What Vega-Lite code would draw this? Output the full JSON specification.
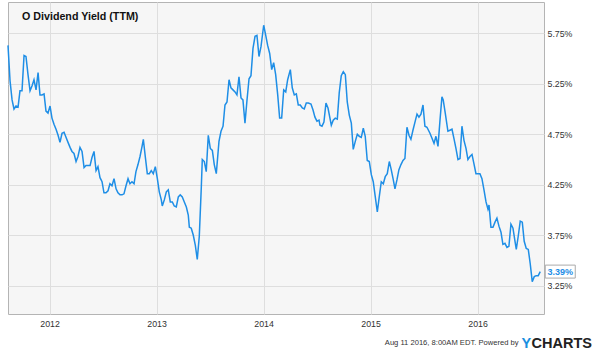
{
  "$schema": "https://vega.github.io/schema/vega-lite/v6.json",
  "width": 536,
  "height": 312,
  "autosize": "none",
  "padding": {"left": 8, "top": 2, "right": 56, "bottom": 40},
  "background": "white",
  "config": {
    "font": "Liberation Sans",
    "view": {"fill": "#f6f6f6", "stroke": "#b4b4b4", "strokeWidth": 1}
  },
  "title": {
    "text": "O Dividend Yield (TTM)",
    "anchor": "start",
    "frame": "group",
    "orient": "top",
    "offset": 0,
    "baseline": "alphabetic",
    "dx": 14,
    "dy": 29,
    "fontSize": 10.7,
    "fontWeight": "bold",
    "color": "#111111",
    "font": "Liberation Sans"
  },
  "datasets": {
    "yield": [
      {"t": 2011.611, "v": 5.63}, {"t": 2011.630, "v": 5.28}, {"t": 2011.649, "v": 5.09}, {"t": 2011.667, "v": 5.00},
      {"t": 2011.686, "v": 5.03}, {"t": 2011.705, "v": 5.02}, {"t": 2011.723, "v": 5.18}, {"t": 2011.742, "v": 5.18},
      {"t": 2011.761, "v": 5.53}, {"t": 2011.779, "v": 5.52}, {"t": 2011.798, "v": 5.34}, {"t": 2011.817, "v": 5.18},
      {"t": 2011.836, "v": 5.23}, {"t": 2011.854, "v": 5.29}, {"t": 2011.873, "v": 5.19}, {"t": 2011.892, "v": 5.36},
      {"t": 2011.910, "v": 5.14}, {"t": 2011.929, "v": 5.14}, {"t": 2011.948, "v": 5.15}, {"t": 2011.966, "v": 4.98},
      {"t": 2011.985, "v": 4.96}, {"t": 2012.004, "v": 5.03}, {"t": 2012.022, "v": 4.91}, {"t": 2012.041, "v": 4.85},
      {"t": 2012.060, "v": 4.80}, {"t": 2012.079, "v": 4.74}, {"t": 2012.097, "v": 4.67}, {"t": 2012.116, "v": 4.76},
      {"t": 2012.135, "v": 4.77}, {"t": 2012.153, "v": 4.72}, {"t": 2012.172, "v": 4.67}, {"t": 2012.191, "v": 4.62},
      {"t": 2012.209, "v": 4.58}, {"t": 2012.228, "v": 4.56}, {"t": 2012.247, "v": 4.48}, {"t": 2012.265, "v": 4.53},
      {"t": 2012.284, "v": 4.62}, {"t": 2012.303, "v": 4.58}, {"t": 2012.322, "v": 4.42}, {"t": 2012.340, "v": 4.44},
      {"t": 2012.359, "v": 4.44}, {"t": 2012.378, "v": 4.44}, {"t": 2012.396, "v": 4.52}, {"t": 2012.415, "v": 4.58},
      {"t": 2012.434, "v": 4.39}, {"t": 2012.452, "v": 4.43}, {"t": 2012.471, "v": 4.32}, {"t": 2012.490, "v": 4.28},
      {"t": 2012.508, "v": 4.17}, {"t": 2012.527, "v": 4.17}, {"t": 2012.546, "v": 4.19}, {"t": 2012.564, "v": 4.26},
      {"t": 2012.583, "v": 4.24}, {"t": 2012.602, "v": 4.31}, {"t": 2012.621, "v": 4.21}, {"t": 2012.639, "v": 4.17},
      {"t": 2012.658, "v": 4.15}, {"t": 2012.677, "v": 4.15}, {"t": 2012.695, "v": 4.16}, {"t": 2012.714, "v": 4.24},
      {"t": 2012.733, "v": 4.31}, {"t": 2012.751, "v": 4.26}, {"t": 2012.770, "v": 4.28}, {"t": 2012.789, "v": 4.26},
      {"t": 2012.807, "v": 4.38}, {"t": 2012.826, "v": 4.45}, {"t": 2012.845, "v": 4.53}, {"t": 2012.864, "v": 4.63},
      {"t": 2012.876, "v": 4.70}, {"t": 2012.894, "v": 4.53}, {"t": 2012.913, "v": 4.36}, {"t": 2012.932, "v": 4.36},
      {"t": 2012.950, "v": 4.39}, {"t": 2012.969, "v": 4.36}, {"t": 2012.988, "v": 4.43}, {"t": 2013.007, "v": 4.31},
      {"t": 2013.025, "v": 4.18}, {"t": 2013.044, "v": 4.10}, {"t": 2013.053, "v": 4.04}, {"t": 2013.072, "v": 4.10},
      {"t": 2013.091, "v": 4.18}, {"t": 2013.109, "v": 4.20}, {"t": 2013.128, "v": 4.08}, {"t": 2013.147, "v": 4.08},
      {"t": 2013.165, "v": 4.04}, {"t": 2013.184, "v": 4.03}, {"t": 2013.203, "v": 4.13}, {"t": 2013.221, "v": 4.15},
      {"t": 2013.240, "v": 4.13}, {"t": 2013.259, "v": 4.08}, {"t": 2013.278, "v": 4.03}, {"t": 2013.296, "v": 3.95},
      {"t": 2013.306, "v": 3.83}, {"t": 2013.324, "v": 3.82}, {"t": 2013.343, "v": 3.75}, {"t": 2013.362, "v": 3.65},
      {"t": 2013.380, "v": 3.51}, {"t": 2013.399, "v": 3.74}, {"t": 2013.418, "v": 4.23}, {"t": 2013.427, "v": 4.50},
      {"t": 2013.446, "v": 4.48}, {"t": 2013.464, "v": 4.38}, {"t": 2013.483, "v": 4.74}, {"t": 2013.502, "v": 4.61},
      {"t": 2013.521, "v": 4.59}, {"t": 2013.539, "v": 4.45}, {"t": 2013.558, "v": 4.36}, {"t": 2013.583, "v": 4.68},
      {"t": 2013.602, "v": 4.78}, {"t": 2013.621, "v": 4.83}, {"t": 2013.639, "v": 5.04}, {"t": 2013.658, "v": 5.07},
      {"t": 2013.677, "v": 5.29}, {"t": 2013.695, "v": 5.21}, {"t": 2013.714, "v": 5.19}, {"t": 2013.733, "v": 5.17},
      {"t": 2013.751, "v": 5.14}, {"t": 2013.770, "v": 5.32}, {"t": 2013.789, "v": 5.11}, {"t": 2013.807, "v": 5.09},
      {"t": 2013.826, "v": 4.86}, {"t": 2013.845, "v": 5.09}, {"t": 2013.864, "v": 5.30}, {"t": 2013.882, "v": 5.33},
      {"t": 2013.901, "v": 5.60}, {"t": 2013.920, "v": 5.72}, {"t": 2013.938, "v": 5.73}, {"t": 2013.957, "v": 5.52},
      {"t": 2013.976, "v": 5.62}, {"t": 2014.001, "v": 5.83}, {"t": 2014.020, "v": 5.73}, {"t": 2014.038, "v": 5.63},
      {"t": 2014.057, "v": 5.55}, {"t": 2014.076, "v": 5.39}, {"t": 2014.094, "v": 5.46}, {"t": 2014.113, "v": 5.34},
      {"t": 2014.132, "v": 5.14}, {"t": 2014.150, "v": 4.91}, {"t": 2014.169, "v": 4.91}, {"t": 2014.188, "v": 5.19},
      {"t": 2014.207, "v": 5.17}, {"t": 2014.225, "v": 5.29}, {"t": 2014.250, "v": 5.39}, {"t": 2014.268, "v": 5.21},
      {"t": 2014.287, "v": 5.14}, {"t": 2014.306, "v": 5.15}, {"t": 2014.324, "v": 5.04}, {"t": 2014.343, "v": 5.04},
      {"t": 2014.362, "v": 5.01}, {"t": 2014.380, "v": 5.00}, {"t": 2014.399, "v": 5.06}, {"t": 2014.418, "v": 5.06},
      {"t": 2014.443, "v": 5.05}, {"t": 2014.462, "v": 4.99}, {"t": 2014.480, "v": 4.92}, {"t": 2014.499, "v": 4.88},
      {"t": 2014.518, "v": 4.89}, {"t": 2014.527, "v": 4.84}, {"t": 2014.546, "v": 4.83}, {"t": 2014.564, "v": 4.87},
      {"t": 2014.583, "v": 5.06}, {"t": 2014.602, "v": 5.01}, {"t": 2014.633, "v": 4.84}, {"t": 2014.651, "v": 4.89},
      {"t": 2014.670, "v": 4.91}, {"t": 2014.689, "v": 4.90}, {"t": 2014.707, "v": 5.16}, {"t": 2014.726, "v": 5.33},
      {"t": 2014.745, "v": 5.37}, {"t": 2014.764, "v": 5.34}, {"t": 2014.782, "v": 5.07}, {"t": 2014.801, "v": 4.94},
      {"t": 2014.820, "v": 4.86}, {"t": 2014.838, "v": 4.60}, {"t": 2014.857, "v": 4.68}, {"t": 2014.876, "v": 4.75},
      {"t": 2014.894, "v": 4.73}, {"t": 2014.913, "v": 4.72}, {"t": 2014.932, "v": 4.81}, {"t": 2014.950, "v": 4.73},
      {"t": 2014.969, "v": 4.49}, {"t": 2014.988, "v": 4.48}, {"t": 2015.007, "v": 4.35}, {"t": 2015.025, "v": 4.28},
      {"t": 2015.044, "v": 4.13}, {"t": 2015.063, "v": 3.98}, {"t": 2015.081, "v": 4.13}, {"t": 2015.100, "v": 4.28},
      {"t": 2015.119, "v": 4.26}, {"t": 2015.137, "v": 4.33}, {"t": 2015.156, "v": 4.36}, {"t": 2015.175, "v": 4.48},
      {"t": 2015.193, "v": 4.40}, {"t": 2015.212, "v": 4.30}, {"t": 2015.228, "v": 4.21}, {"t": 2015.247, "v": 4.30},
      {"t": 2015.265, "v": 4.40}, {"t": 2015.284, "v": 4.45}, {"t": 2015.303, "v": 4.49}, {"t": 2015.321, "v": 4.51},
      {"t": 2015.340, "v": 4.82}, {"t": 2015.359, "v": 4.74}, {"t": 2015.377, "v": 4.70}, {"t": 2015.396, "v": 4.79},
      {"t": 2015.415, "v": 4.87}, {"t": 2015.434, "v": 4.95}, {"t": 2015.452, "v": 4.92}, {"t": 2015.471, "v": 4.95},
      {"t": 2015.490, "v": 5.04}, {"t": 2015.508, "v": 4.83}, {"t": 2015.527, "v": 4.82}, {"t": 2015.555, "v": 4.76},
      {"t": 2015.574, "v": 4.71}, {"t": 2015.593, "v": 4.66}, {"t": 2015.611, "v": 4.73}, {"t": 2015.630, "v": 4.63},
      {"t": 2015.649, "v": 4.89}, {"t": 2015.667, "v": 5.12}, {"t": 2015.679, "v": 5.09}, {"t": 2015.698, "v": 4.96},
      {"t": 2015.723, "v": 4.78}, {"t": 2015.742, "v": 4.79}, {"t": 2015.761, "v": 4.80}, {"t": 2015.779, "v": 4.71},
      {"t": 2015.798, "v": 4.61}, {"t": 2015.817, "v": 4.50}, {"t": 2015.836, "v": 4.51}, {"t": 2015.854, "v": 4.83},
      {"t": 2015.873, "v": 4.69}, {"t": 2015.892, "v": 4.61}, {"t": 2015.910, "v": 4.50}, {"t": 2015.929, "v": 4.53},
      {"t": 2015.948, "v": 4.55}, {"t": 2015.966, "v": 4.46}, {"t": 2015.985, "v": 4.36}, {"t": 2016.004, "v": 4.36},
      {"t": 2016.022, "v": 4.36}, {"t": 2016.041, "v": 4.31}, {"t": 2016.060, "v": 4.20}, {"t": 2016.079, "v": 4.08},
      {"t": 2016.097, "v": 4.01}, {"t": 2016.107, "v": 4.05}, {"t": 2016.125, "v": 3.83}, {"t": 2016.144, "v": 3.83},
      {"t": 2016.163, "v": 3.88}, {"t": 2016.181, "v": 3.92}, {"t": 2016.200, "v": 3.84}, {"t": 2016.219, "v": 3.78},
      {"t": 2016.237, "v": 3.66}, {"t": 2016.256, "v": 3.67}, {"t": 2016.275, "v": 3.63}, {"t": 2016.293, "v": 3.64},
      {"t": 2016.312, "v": 3.86}, {"t": 2016.331, "v": 3.82}, {"t": 2016.350, "v": 3.69}, {"t": 2016.362, "v": 3.61},
      {"t": 2016.380, "v": 3.74}, {"t": 2016.399, "v": 3.89}, {"t": 2016.418, "v": 3.88}, {"t": 2016.436, "v": 3.69},
      {"t": 2016.455, "v": 3.62}, {"t": 2016.474, "v": 3.61}, {"t": 2016.492, "v": 3.47}, {"t": 2016.511, "v": 3.29},
      {"t": 2016.530, "v": 3.34}, {"t": 2016.548, "v": 3.35}, {"t": 2016.567, "v": 3.35}, {"t": 2016.586, "v": 3.39}
    ],
    "last": [
      {"t": 2016.586, "v": 3.39, "label": "3.39%"}
    ]
  },
  "encoding": {
    "x": {
      "field": "t",
      "type": "quantitative",
      "scale": {"domain": [2011.611, 2016.621], "nice": false, "zero": false},
      "axis": {
        "values": [2012, 2013, 2014, 2015, 2016],
        "format": "d",
        "grid": true,
        "gridColor": "#dedede",
        "gridWidth": 1,
        "ticks": false,
        "domain": false,
        "labelFont": "Liberation Sans",
        "labelFontSize": 8.8,
        "labelColor": "#333333",
        "labelPadding": 5,
        "labelFlush": false,
        "title": "Aug 11 2016, 8:00AM EDT.  Powered by",
        "titleFont": "Liberation Sans",
        "titleFontSize": 7.6,
        "titleFontWeight": "normal",
        "titleColor": "#333333",
        "titleAnchor": null,
        "titleAlign": "right",
        "titleBaseline": "alphabetic",
        "titleX": 510,
        "titleY": 30
      }
    }
  },
  "layer": [
    {
      "data": {"name": "yield"},
      "mark": {"type": "line", "color": "#1e8ee6", "strokeWidth": 1.5, "interpolate": "linear"},
      "encoding": {
        "y": {
          "field": "v",
          "type": "quantitative",
          "scale": {"domain": [2.97, 6.06], "nice": false, "zero": false},
          "axis": {
            "orient": "right",
            "values": [3.25, 3.75, 4.25, 4.75, 5.25, 5.75],
            "labelExpr": "format(datum.value, '.2f') + '%'",
            "grid": true,
            "gridColor": "#dedede",
            "gridWidth": 1,
            "ticks": false,
            "domain": false,
            "labelFont": "Liberation Sans",
            "labelFontSize": 8.8,
            "labelColor": "#333333",
            "labelPadding": 3,
            "labelFlush": false,
            "title": "Y",
            "titleFont": "Liberation Sans",
            "titleFontSize": 14.5,
            "titleFontWeight": "bold",
            "titleColor": "#1a8fe0",
            "titleAngle": 0,
            "titleAnchor": null,
            "titleAlign": "left",
            "titleBaseline": "alphabetic",
            "titleX": -23,
            "titleY": 345
          }
        }
      }
    },
    {
      "data": {"name": "last"},
      "mark": {
        "type": "point",
        "shape": "M-1,-0.433H1V0.433H-1Z",
        "size": 900,
        "filled": true,
        "fill": "white",
        "stroke": "#aaaaaa",
        "strokeWidth": 1,
        "opacity": 1,
        "xOffset": 20
      },
      "encoding": {
        "y": {
          "field": "v",
          "type": "quantitative",
          "scale": {"domain": [2.97, 6.06], "nice": false, "zero": false},
          "axis": {
            "orient": "left",
            "labels": false,
            "ticks": false,
            "grid": false,
            "domain": false,
            "title": "CHARTS",
            "titleFont": "Liberation Sans",
            "titleFontSize": 14.5,
            "titleFontWeight": "bold",
            "titleColor": "#222222",
            "titleAngle": 0,
            "titleAnchor": null,
            "titleAlign": "left",
            "titleBaseline": "alphabetic",
            "titleX": 523,
            "titleY": 345
          }
        }
      }
    },
    {
      "data": {"name": "last"},
      "mark": {
        "type": "text",
        "xOffset": 20,
        "align": "center",
        "baseline": "middle",
        "font": "Liberation Sans",
        "fontSize": 9,
        "fontWeight": "bold",
        "color": "#1e8ee6"
      },
      "encoding": {
        "y": {
          "field": "v",
          "type": "quantitative",
          "scale": {"domain": [2.97, 6.06], "nice": false, "zero": false},
          "axis": null
        },
        "text": {"field": "label", "type": "nominal"}
      }
    }
  ],
  "resolve": {"axis": {"y": "independent"}}
}
